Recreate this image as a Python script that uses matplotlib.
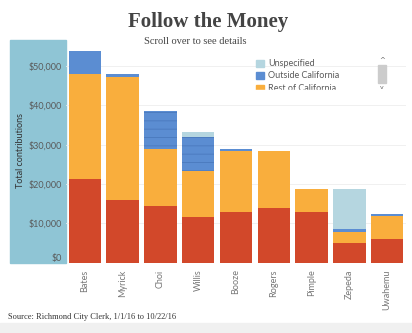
import numpy as np
import matplotlib
matplotlib.use("Agg")
import matplotlib.pyplot as plt
from matplotlib.patches import Rectangle
from matplotlib.ticker import FuncFormatter

# ---------------------------------------------------------
# data (dollars)
# ---------------------------------------------------------
candidates = ["Bates", "Myrick", "Choi", "Willis", "Booze",
              "Rogers", "Pimple", "Zepeda", "Uwahemu"]
richmond    = [21200, 15900, 14450, 11600, 12900, 13900, 12850, 4900, 6050]
rest_of_ca  = [26700, 31400, 14450, 11800, 15400, 14550, 5850, 2800, 5750]
outside_ca  = [5900, 700, 9600, 8600, 500, 0, 0, 750, 500]
unspecified = [0, 0, 0, 1100, 0, 0, 0, 10250, 0]

legend_labels = ["Unspecified", "Outside California", "Rest of California"]
yticks = [0, 10000, 20000, 30000, 40000, 50000]

# ---------------------------------------------------------
# style
# ---------------------------------------------------------
c_red = "#d2482a"
c_orange = "#f9ae3d"
c_blue = "#5b8dd2"
c_lblue = "#b5d6e0"
c_panel = "#8fc5d5"
c_text = "#5a5a5a"
plt.rcParams["hatch.linewidth"] = 0.7

W, H = 412, 333
fig = plt.figure(figsize=(W / 100, H / 100), dpi=100)


def px(x0, y0, w, h):
    # pixel box (top-left origin) -> figure fraction
    return [x0 / W, 1 - (y0 + h) / H, w / W, h / H]


ax = fig.add_axes(px(66, 40, 340, 222.5))

# y-axis panel
fig.patches.append(Rectangle((10 / W, 1 - 263 / H), 56 / W, 223 / H,
                             transform=fig.transFigure, color=c_panel,
                             zorder=-1))

x = np.arange(len(candidates))
wid = 0.86
b0 = np.zeros(len(x))
ax.bar(x, richmond, wid, bottom=b0, color=c_red, linewidth=0, zorder=2)
b0 += richmond
ax.bar(x, rest_of_ca, wid, bottom=b0, color=c_orange, linewidth=0, zorder=2)
b0 += rest_of_ca
bars = ax.bar(x, outside_ca, wid, bottom=b0, color=c_blue, linewidth=0, zorder=2)
for i in (2, 3):
    bars[i].set_hatch("--")
    bars[i].set_edgecolor("#4c7cc0")
b0 += outside_ca
ax.bar(x, unspecified, wid, bottom=b0, color=c_lblue, linewidth=0, zorder=2)

ax.set_xlim(-0.5, len(x) - 0.5)
ax.set_ylim(0, 56600)
ax.set_yticks(yticks)
ax.yaxis.set_major_formatter(FuncFormatter(lambda v, p: "${:,.0f}".format(v)))
ax.grid(axis="y", color="#eeeeee", linewidth=0.6, zorder=0)
for s in ax.spines.values():
    s.set_visible(False)
ax.tick_params(axis="y", length=0, pad=3, labelsize=6.5, labelcolor=c_text)
ax.tick_params(axis="x", length=0, pad=5, labelsize=6.5, labelcolor="#777777")
ax.set_xticks(x)
ax.set_xticklabels(candidates, rotation=90, va="top")
for t in ax.get_yticklabels() + ax.get_xticklabels():
    t.set_family("Lato")
ax.get_yticklabels()[0].set_va("bottom")
ax.set_facecolor("none")

fig.text(21 / W, 1 - 150 / H, "Total contributions", rotation=90,
         ha="center", va="center", fontsize=6.5, color="#333333",
         family="Lato")

# titles
fig.text(208 / W, 1 - 22 / H, "Follow the Money", ha="center", va="center",
         fontsize=15, fontweight="bold", color="#444444",
         family="Liberation Serif")
fig.text(195 / W, 1 - 41 / H, "Scroll over to see details", ha="center",
         va="center", fontsize=7.5, color="#444444", family="Liberation Serif")
fig.text(8 / W, 1 - 317 / H, "Source: Richmond City Clerk, 1/1/16 to 10/22/16",
         ha="left", va="center", fontsize=6, color="#333333",
         family="Liberation Serif")

# bottom band
fig.patches.append(Rectangle((0, 0), 1, 10 / H, transform=fig.transFigure,
                             color="#f0f0f0", zorder=-1))

# legend (scrolling box, third row clipped)
leg_colors = [c_lblue, c_blue, c_orange]
for i, (lab, col) in enumerate(zip(legend_labels, leg_colors)):
    yc = 63 + i * 12.8
    fig.patches.append(Rectangle((256 / W, 1 - (yc + 3.5) / H), 7.5 / W, 7 / H,
                                 transform=fig.transFigure, color=col, zorder=5))
    fig.text(268 / W, 1 - yc / H, lab, ha="left", va="center", fontsize=6.5,
             color=c_text, family="Lato", zorder=5)
fig.patches.append(Rectangle((250 / W, 1 - 98 / H), 125 / W, 7.7 / H,
                             transform=fig.transFigure, color="white", zorder=6))
# scrollbar
fig.patches.append(Rectangle((378 / W, 1 - 83 / H), 8 / W, 18 / H,
                             transform=fig.transFigure, color="#cccccc", zorder=6))
fig.text(382 / W, 1 - 60 / H, "^", ha="center", va="center", fontsize=5,
         color="#666666", zorder=6)
fig.text(382 / W, 1 - 87.5 / H, "v", ha="center", va="center", fontsize=4.5,
         color="#666666", zorder=6)

fig.savefig("out.png", dpi=100)
